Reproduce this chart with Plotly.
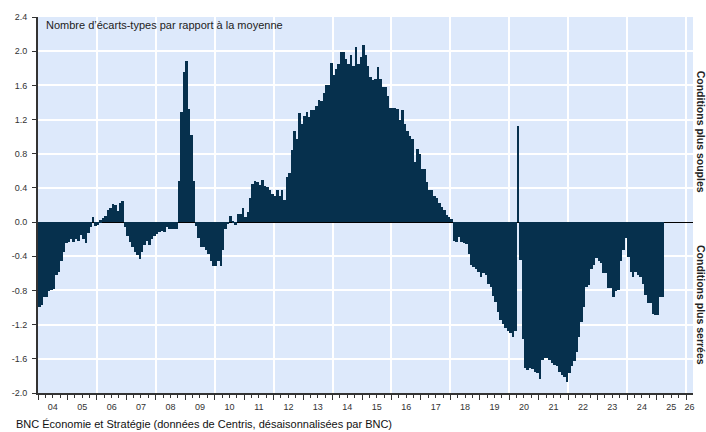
import pandas as pd
import plotly.graph_objects as go

# Monthly values, Jan 2004 -> Mar 2025 (std. deviations from mean)
ecarts = [
    -0.99, -0.97, -0.88, -0.88, -0.81, -0.79, -0.78, -0.62, -0.58, -0.45, -0.35, -0.25,  # 2004
    -0.23, -0.20, -0.23, -0.20, -0.22, -0.15, -0.20, -0.24, -0.13, -0.06, 0.06, -0.04,   # 2005
    -0.03, 0.02, 0.05, 0.07, 0.14, 0.16, 0.21, 0.20, 0.13, 0.22, 0.25, -0.06,            # 2006
    -0.16, -0.23, -0.29, -0.35, -0.39, -0.43, -0.35, -0.27, -0.22, -0.27, -0.20, -0.16,  # 2007
    -0.14, -0.12, -0.10, -0.12, -0.06, -0.08, -0.08, -0.08, -0.08, 0.48, 1.29, 1.76,     # 2008
    1.89, 1.32, 1.02, 0.48, -0.05, -0.19, -0.29, -0.29, -0.33, -0.37, -0.45, -0.51,      # 2009
    -0.51, -0.45, -0.51, -0.33, -0.08, -0.02, 0.07, 0.01, -0.03, 0.10, 0.10, 0.16,       # 2010
    0.06, 0.12, 0.28, 0.44, 0.48, 0.47, 0.43, 0.49, 0.42, 0.41, 0.37, 0.33,              # 2011
    0.31, 0.38, 0.31, 0.38, 0.26, 0.53, 0.58, 0.84, 1.07, 0.97, 1.28, 1.15,              # 2012
    1.24, 1.29, 1.23, 1.31, 1.31, 1.36, 1.43, 1.42, 1.51, 1.61, 1.61, 1.86,              # 2013
    1.72, 1.79, 1.85, 1.99, 1.99, 1.91, 1.85, 1.95, 1.83, 2.05, 1.85, 1.93,              # 2014
    2.07, 1.95, 1.83, 1.70, 1.66, 1.68, 1.81, 1.68, 1.58, 1.58, 1.48, 1.33,              # 2015
    1.33, 1.33, 1.32, 1.20, 1.31, 1.15, 1.07, 1.01, 0.97, 0.70, 0.86, 0.80,              # 2016
    0.62, 0.62, 0.47, 0.37, 0.37, 0.30, 0.28, 0.22, 0.18, 0.14, 0.08, 0.06,              # 2017
    0.04, -0.22, -0.23, -0.18, -0.23, -0.25, -0.26, -0.37, -0.50, -0.53, -0.55, -0.58,   # 2018
    -0.64, -0.60, -0.62, -0.72, -0.76, -0.87, -0.93, -1.05, -1.15, -1.19, -1.24, -1.28,  # 2019
    -1.30, -1.34, -1.28, 1.12, -0.44, -1.37, -1.71, -1.73, -1.71, -1.72, -1.75, -1.77,   # 2020
    -1.84, -1.61, -1.59, -1.59, -1.61, -1.65, -1.67, -1.68, -1.75, -1.79, -1.81, -1.87,  # 2021
    -1.77, -1.68, -1.63, -1.52, -1.34, -1.17, -0.99, -0.76, -0.74, -0.55, -0.50, -0.42,  # 2022
    -0.45, -0.48, -0.59, -0.59, -0.77, -0.77, -0.88, -0.81, -0.80, -0.46, -0.33, -0.19,  # 2023
    -0.41, -0.58, -0.64, -0.58, -0.62, -0.64, -0.72, -0.85, -0.95, -0.95, -1.08, -1.09,  # 2024
    -1.09, -0.88, -0.88,                                                                 # 2025
]
months = pd.date_range("2004-01-01", periods=len(ecarts), freq="MS")

year_label_dates = [f"{y}-07-02" for y in range(2004, 2026)] + ["2026-02-14"]
year_labels = [f"{y % 100:02d}" for y in range(2004, 2027)]
y_tick_vals = [-2.0, -1.6, -1.2, -0.8, -0.4, 0.0, 0.4, 0.8, 1.2, 1.6, 2.0, 2.4]
y_tick_text = ["-2.0", "-1.6", "-1.2", "-0.8", "-0.4", "0.0", "0.4", "0.8", "1.2", "1.6", "2.0", "2.4"]

x_range = ["2004-01-01", "2026-03-28"]
BAR = "#06304d"
BG = "#dde9fb"
AX = "#333333"
FONT = "Arial, Liberation Sans, sans-serif"
MONTH_MS = 31 * 24 * 3600 * 1000  # bar width: one (long) month, bars touch

fig = go.Figure()
fig.add_trace(go.Bar(x=months, y=ecarts, xperiod="M1", xperiodalignment="middle",
                     width=MONTH_MS,
                     marker=dict(color=BAR, line=dict(width=0)), showlegend=False))
# empty helper traces so that the overlay axes are drawn
fig.add_trace(go.Scatter(x=[], y=[], xaxis="x2", showlegend=False))
fig.add_trace(go.Scatter(x=[], y=[], xaxis="x3", showlegend=False))

fig.update_layout(
    width=706, height=432,
    margin=dict(l=38, r=13, t=17, b=39),
    paper_bgcolor="white", plot_bgcolor=BG,
    bargap=0,
    font=dict(family=FONT, size=9, color=AX),
    # main axis: 2-year vertical gridlines + quarterly minor ticks
    xaxis=dict(type="date", range=x_range, tickmode="linear", tick0="2006-01-01", dtick="M24",
               ticks="", showticklabels=False, automargin=False,
               showgrid=True, gridcolor="white", gridwidth=1.5,
               zeroline=False, showline=True, linecolor=AX, linewidth=1.5,
               minor=dict(tickmode="linear", tick0="2004-01-01", dtick="M3",
                          ticks="outside", ticklen=3, tickcolor=AX, showgrid=False)),
    # yearly ticks
    xaxis2=dict(type="date", range=x_range, overlaying="x", anchor="y", side="bottom",
                tickmode="linear", tick0="2004-01-01", dtick="M12", automargin=False,
                ticks="outside", ticklen=6, tickcolor=AX, tickwidth=1,
                showticklabels=False, showgrid=False, zeroline=False, showline=False),
    # year labels centred on each year
    xaxis3=dict(type="date", range=x_range, overlaying="x", anchor="y", side="bottom",
                tickmode="array", tickvals=year_label_dates, ticktext=year_labels,
                ticks="", showgrid=False, zeroline=False, showline=False, automargin=False,
                ticklabelstandoff=7, tickfont=dict(size=9, color=AX)),
    yaxis=dict(range=[-2.0, 2.4], tickmode="array", tickvals=y_tick_vals, ticktext=y_tick_text,
               ticks="outside", ticklen=4, tickcolor=AX, showline=True, linecolor=AX, linewidth=2,
               showgrid=True, gridcolor="white", gridwidth=1.5, automargin=False,
               zeroline=True, zerolinecolor="black", zerolinewidth=1.2,
               ticklabelstandoff=3, tickfont=dict(size=9, color=AX)),
    annotations=[
        dict(text="Nombre d’écarts-types par rapport à la moyenne", xref="paper", yref="paper",
             x=0.009, y=1.0, xanchor="left", yanchor="top", showarrow=False,
             font=dict(size=11, color="#222222")),
        dict(text="<b>Conditions plus souples</b>", xref="paper", yref="paper",
             x=1.0, xshift=8, y=0.695, xanchor="center", yanchor="middle", textangle=90,
             showarrow=False, font=dict(size=10.5, color="#222222")),
        dict(text="<b>Conditions plus serrées</b>", xref="paper", yref="paper",
             x=1.0, xshift=8, y=0.234, xanchor="center", yanchor="middle", textangle=90,
             showarrow=False, font=dict(size=10.5, color="#222222")),
        dict(text="BNC Économie et Stratégie (données de Centris, désaisonnalisées par BNC)",
             xref="paper", yref="paper", x=-0.037, y=-0.083, xanchor="left", yanchor="middle",
             showarrow=False, font=dict(size=11, color="#111111")),
    ],
)

fig.write_html("out.html", config={"displayModeBar": False},
               post_script="document.body.style.margin='0';document.body.style.overflow='hidden';")
